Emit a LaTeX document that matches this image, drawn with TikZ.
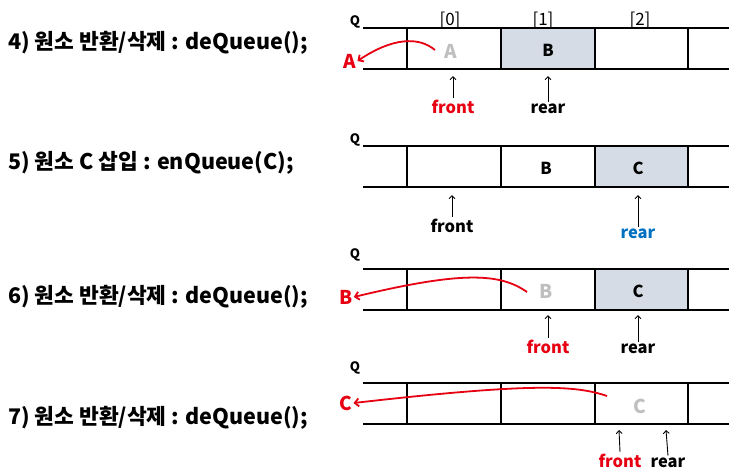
\documentclass[tikz,border=0pt]{standalone}
\usepackage{fontspec}
\setmainfont{Noto Sans CJK KR}
\usetikzlibrary{arrows.meta,positioning}
\definecolor{qred}{RGB}{230,0,18}
\definecolor{qblue}{RGB}{0,112,192}
\definecolor{qfill}{RGB}{214,220,229}
\definecolor{qgray}{RGB}{191,191,191}
\tikzset{
  qline/.style={line width=2pt},
  stagetitle/.style={anchor=west, inner sep=0pt, font=\fontsize{21.5}{24}\selectfont\bfseries},
  qname/.style={font=\fontsize{13}{14}\selectfont\bfseries},
  idx/.style={font=\fontsize{17}{18}\selectfont},
  cell/.style={font=\fontsize{16.5}{18}\selectfont\bfseries},
  gone/.style={qgray, font=\fontsize{19}{20}\selectfont\bfseries},
  outlet/.style={qred, inner sep=1pt, font=\fontsize{19}{20}\selectfont\bfseries},
  ptr/.style={anchor=base, inner sep=1.5pt, font=\fontsize{16.5}{18}\selectfont\bfseries},
  ptrarrow/.style={-{Straight Barb[length=3pt,width=6pt]}, line width=0.9pt},
  outarrow/.style={qred, line width=1.8pt, -{Straight Barb[length=4pt,width=8pt]}}
}
\begin{document}
\begin{tikzpicture}[x=1pt, y=-1pt]
  \useasboundingbox (0,0) rectangle (742,475);
  % stage titles
  \node[stagetitle] (t4) at (8,43) {4) 원소 반환/삭제 : deQueue();};
  \node[stagetitle] (t5) at (8,163) {5) 원소 C 삽입 : enQueue(C);};
  \node[stagetitle] (t6) at (8,297) {6) 원소 반환/삭제 : deQueue();};
  \node[stagetitle] (t7) at (8,418) {7) 원소 반환/삭제 : deQueue();};
  % 4) deQueue
  \begin{scope}[shift={(0,28)}]
    \fill[qfill] (501,0) rectangle (595,41);
    \draw[qline] (363,0) -- (729,0) (363,41) -- (729,41);
    \foreach \x in {407,501,595,688} \draw[qline] (\x,0) -- (\x,41);
    \node[qname] (q4) at (355,-6) {Q};
    \node[idx] (i0) at (450,-8) {[0]};
    \node[idx] (i1) at (543,-8) {[1]};
    \node[idx] (i2) at (640,-8) {[2]};
    \node[gone] (a4) at (451,23) {A};
    \node[cell] (b4) at (548,22) {B};
    \node[outlet] (ra4) at (350,33) {A};
    \coordinate (s4) at (435,22);
    \draw[outarrow] (s4) .. controls (418,8) and (392,10) .. (ra4.east);
    \node[ptr, qred] (f4) at (453,85) {front};
    \node[ptr] (r4) at (548,85) {rear};
    \coordinate (f4t) at (453,48);
    \coordinate (r4t) at (548,48);
    \draw[ptrarrow] (f4.north) -- (f4t);
    \draw[ptrarrow] (r4.north) -- (r4t);
  \end{scope}
  % 5) enQueue(C)
  \begin{scope}[shift={(0,146)}]
    \fill[qfill] (595,0) rectangle (688,41);
    \draw[qline] (363,0) -- (729,0) (363,41) -- (729,41);
    \foreach \x in {407,501,595,688} \draw[qline] (\x,0) -- (\x,41);
    \node[qname] (q5) at (355,-6) {Q};
    \node[cell] (b5) at (546,22) {B};
    \node[cell] (c5) at (638,22) {C};
    \node[ptr] (f5) at (452,86) {front};
    \node[ptr, qblue] (r5) at (638,92) {rear};
    \coordinate (f5t) at (452,49);
    \coordinate (r5t) at (638,49);
    \draw[ptrarrow] (f5.north) -- (f5t);
    \draw[ptrarrow] (r5.north) -- (r5t);
  \end{scope}
  % 6) deQueue
  \begin{scope}[shift={(0,269)}]
    \fill[qfill] (595,0) rectangle (688,41);
    \draw[qline] (363,0) -- (729,0) (363,41) -- (729,41);
    \foreach \x in {407,501,595,688} \draw[qline] (\x,0) -- (\x,41);
    \node[qname] (q6) at (355,-14) {Q};
    \node[gone] (b6) at (546,22) {B};
    \node[cell] (c6) at (638,22) {C};
    \node[outlet] (rb6) at (346,28) {B};
    \coordinate (s6) at (527,23);
    \draw[outarrow] (s6) .. controls (500,4) and (462,2) .. (rb6.east);
    \node[ptr, qred] (f6) at (548,84) {front};
    \node[ptr] (r6) at (638,84) {rear};
    \coordinate (f6t) at (548,46);
    \coordinate (r6t) at (638,46);
    \draw[ptrarrow] (f6.north) -- (f6t);
    \draw[ptrarrow] (r6.north) -- (r6t);
  \end{scope}
  % 7) deQueue
  \begin{scope}[shift={(0,383)}]
    \draw[qline] (363,0) -- (729,0) (363,41) -- (729,41);
    \foreach \x in {407,501,595,688} \draw[qline] (\x,0) -- (\x,41);
    \node[qname] (q7) at (355,-15) {Q};
    \node[gone] (c7) at (640,23) {C};
    \node[outlet] (rc7) at (346,20) {C};
    \coordinate (s7) at (607,13);
    \draw[outarrow] (s7) .. controls (575,2) and (530,0) .. (rc7.east);
    \node[ptr, qred] (f7) at (620,84) {front};
    \node[ptr] (r7) at (668,84) {rear};
    \coordinate (f7t) at (619,47);
    \coordinate (r7t) at (666,47);
    \draw[ptrarrow] (f7.north) -- (f7t);
    \draw[ptrarrow] (r7.north) -- (r7t);
  \end{scope}
\end{tikzpicture}
\end{document}
